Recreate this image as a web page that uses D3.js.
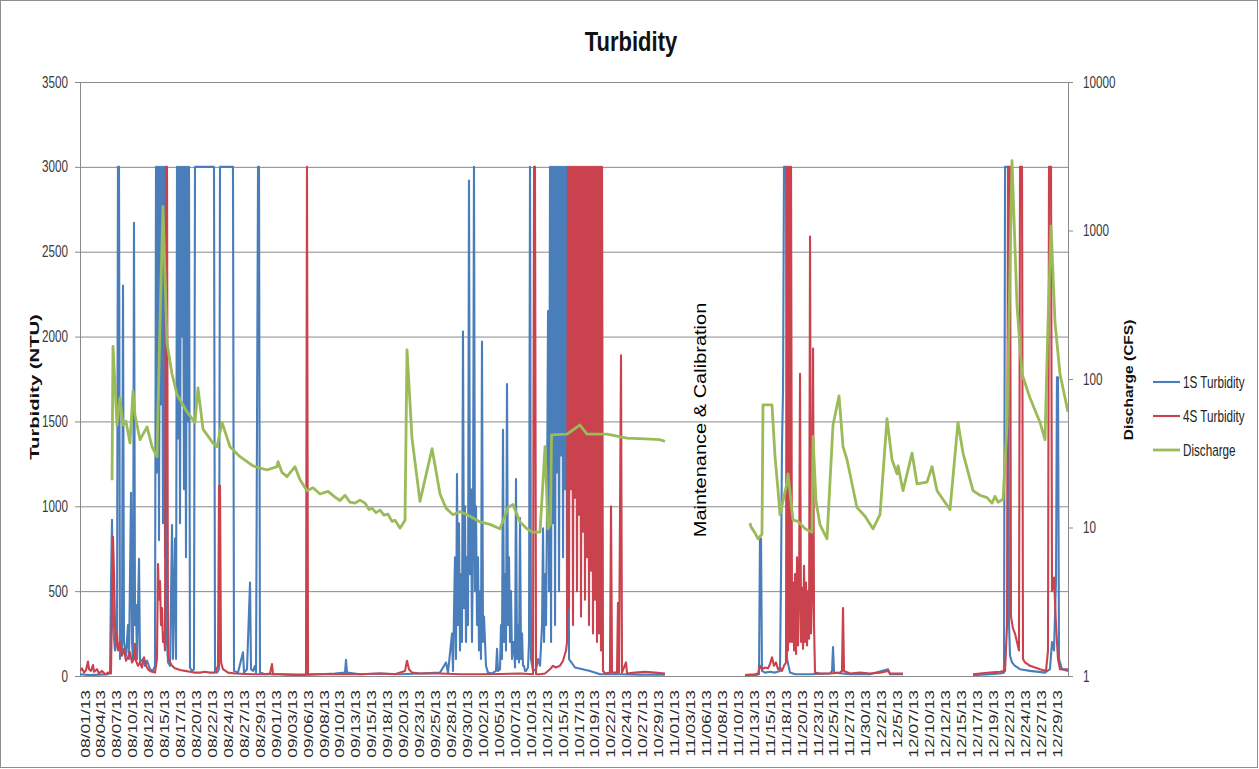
<!DOCTYPE html>
<html><head><meta charset="utf-8">
<script src="https://cdn.jsdelivr.net/npm/d3@7"></script>
<style>
body{margin:0;background:#fff}
svg{display:block}
text{font-family:"Liberation Sans",Arial,sans-serif}
</style>
</head><body>
<svg id="c" width="1259" height="769"></svg>
<script>
// ---------------- data ----------------
const chartTitle = "Turbidity";
const leftTitle = "Turbidity (NTU)";
const rightTitle = "Discharge (CFS)";
const gapNote = "Maintenance & Calibration";
const seriesNames = ["1S Turbidity", "4S Turbidity", "Discharge"];
const seriesColors = ["#4a7ebb", "#c9424d", "#9bbb59"];

const dateLabels = ["08/01/13","08/04/13","08/07/13","08/10/13","08/12/13","08/15/13","08/17/13","08/20/13","08/22/13","08/24/13","08/27/13","08/29/13",
"09/01/13","09/03/13","09/06/13","09/08/13","09/10/13","09/13/13","09/15/13","09/18/13","09/20/13","09/23/13","09/25/13","09/28/13","09/30/13",
"10/02/13","10/05/13","10/07/13","10/10/13","10/12/13","10/15/13","10/17/13","10/19/13","10/22/13","10/24/13","10/27/13","10/29/13",
"11/01/13","11/03/13","11/06/13","11/08/13","11/10/13","11/13/13","11/15/13","11/18/13","11/20/13","11/23/13","11/25/13","11/27/13","11/30/13",
"12/2/13","12/5/13","12/07/13","12/10/13","12/12/13","12/15/13","12/17/13","12/19/13","12/22/13","12/24/13","12/27/13","12/29/13"];
const leftTicks = [0,500,1000,1500,2000,2500,3000,3500];
const rightTicks = [1,10,100,1000,10000];
const dayDomain = [0,153];          // days since 08/01/13
const SAMPLE_STEP = 0.1549;         // days between logged samples inside bursts

// 1S turbidity (NTU): [day, value]
const s1AugOct = [[0,10],[1.55,5],[3.10,8],[4.34,10],[4.65,20],[4.80,540],[4.96,920],[5.11,300],[5.42,150],[5.73,200],[5.88,3000],[6.04,3000],[6.19,100],[6.35,300],[6.50,150],[6.66,2300],[6.81,200],[7.12,120],[7.43,300],[7.59,100],[7.90,1080],[8.05,200],[8.21,100],[8.36,2670],[8.52,300],[8.67,420],[8.83,100],[9.14,690],[9.29,80],[9.76,100],[10.07,60],[10.38,90],[10.84,40],[11.30,30],[11.61,60],
[13.47,200],[13.63,80],[13.94,60],[14.25,890],[14.40,100],[14.71,810],[14.87,100],
[17.03,50],[17.34,30],[17.65,40],[17.81,3000],[20.75,3000],[20.91,30],[21.22,20],[21.53,40],[21.68,3000],[23.69,3000],[23.85,30],[24.47,20],[25.24,140],[25.40,20],[25.86,40],[26.33,550],[26.48,40],[26.79,30],[27.10,60],[27.26,20],[27.57,3000],[27.72,3000],[27.87,20],[28.65,10],[30.97,10],[34.07,5],[37.17,10],[39.49,15],[41.04,20],[41.19,95],[41.35,20],[43.36,10],[46.46,15],[49.56,10],[52.65,15],[55.75,20],[56.68,80],[56.99,20],[57.61,250],[57.76,30],
[62.87,60],[63.18,20],[63.80,15],[64.42,30],[64.58,160],[64.73,30],
[70.15,30],[70.62,40],[70.93,100],[71.24,60],
[75.73,100],[76.66,50],[78.98,30],[80.53,10],[83.62,10],[86.72,8],[90.59,8]];
const s1Bursts = [
 {start:11.77, values:[3000,1200,3000,800,3000,1600,3000,900,3000,700,3000]},
 {start:15.02, values:[3000,1400,3000,900,3000,2000,3000,1100,3000,700,3000,1500,3000]},
 {start:58.07, values:[700,100,1190,300,900,150,600,200,2030,400,1000,200,700,300,2920,600,1100,200,800,3000,500,1000,300,700,150,500,100,1970,200,350]},
 {start:65.04, values:[40,300,100,1450,200,600,150,1720,300,700,200,500,100,200,200,50,1160,100,300,80,930,100,250,60,60,30,30,40,50,200,3000,100]},
 {start:71.55, values:[300,870,200,600,300,1000,2150,500,3000,200,3000,900,3000,300,3000,1200,3000,500,3000,1300,3000,700,3000,1100,3000,400,3000]}
];
const s1Nov = [[102.98,5],[104.53,5],[105.15,10],[105.30,810],[105.46,810],[105.61,30],[106.08,20],[106.85,25],[107.63,20],[108.40,30],[108.56,600],[108.71,1360],[108.87,1680],[109.02,3000],[109.33,3000],[109.49,100],[109.95,20],[110.73,10],[113.05,10],[116.15,15],[116.46,30],[116.61,170],[116.77,20],[119.24,10],[122.34,10],[125.13,40],[125.44,10],[127.45,10]];
const s1Dec = [[138.29,5],[140.92,10],[142.47,15],[143.09,20],[143.25,3000],[143.71,3000],[143.87,300],[144.02,120],[144.33,80],[144.79,60],[145.57,40],[147.12,30],[149.44,20],[150.21,40],[150.52,200],[150.83,150],[151.14,560],[151.29,1760],[151.45,1760],[151.61,100],[152.07,40],[153,30]];

// 4S turbidity (NTU)
const s4AugOct = [[0,30],[0.31,45],[0.62,20],[0.93,35],[1.24,85],[1.39,40],[1.70,30],[2.01,65],[2.17,25],[2.63,40],[2.94,15],[3.41,30],[3.87,10],[4.34,20],[4.80,15],[4.96,450],[5.11,820],[5.27,600],[5.42,300],[5.57,180],[5.73,250],[5.88,150],[6.19,200],[6.50,120],[6.81,160],[7.12,90],[7.43,110],[7.74,140],[8.05,80],[8.36,100],[8.52,190],[8.67,90],[8.98,60],[9.29,80],[9.60,50],[9.91,110],[10.22,60],[10.53,40],[10.84,30],[11.15,25],[11.61,20],[11.92,100],[12.08,660],[12.23,450],[12.39,560],[12.54,300],[12.70,400],[12.85,200],[13.01,250],[13.16,150],[13.32,3000],[13.47,3000],[13.63,120],[13.94,80],[14.25,60],[14.71,45],[15.49,35],[16.26,30],[17.03,25],[17.81,20],[18.58,20],[19.36,25],[20.13,20],[20.91,20],[21.37,60],[21.53,1120],[21.68,1120],[21.84,80],[22.14,40],[22.92,20],[24.00,15],[25.55,12],[27.10,10],[28.65,10],[29.42,15],[29.73,70],[29.89,10],[30.97,10],[32.52,8],[35.00,10],[35.15,3000],[35.31,10],[37.17,10],[40.26,12],[43.36,10],[46.46,15],[48.78,10],[50.33,30],[50.64,90],[50.95,40],[51.41,20],[52.65,15],[55.75,15],[58.85,10],[61.94,10],[65.04,12],[68.14,15],[70.15,10],[70.31,3000],[70.46,3000],[70.62,10],[71.24,10],[72.01,15],[72.78,40],[73.25,60],[73.71,50],[74.33,60],[74.80,90],[75.26,150],[75.42,200],
[80.99,30],[81.30,15],[82.07,20],[82.23,1000],[82.39,20],[83.16,20],[83.31,430],[83.47,20],[83.78,1890],[83.93,20],[84.55,80],[84.71,15],[85.95,20],[87.50,25],[89.04,20],[90.59,15]];
const s4Bursts = [
 {start:75.57, values:[3000,400,3000,1100,3000,300,3000,1050,3000,500,3000,950,3000,350,3000,850,3000,450,3000,700,3000,300,3000,620,3000,250,3000,450,3000,200,3000,250,3000,150,3000]},
 {start:109.49, values:[3000,150,3000,200,3000,200,550,150,600,130,700,180,450,1780,200,520,160,650,200,550,180,500,220,2590,250,480,1930,300]}
];
const s4Nov = [[102.98,5],[103.76,8],[104.53,10],[105.00,15],[105.30,60],[105.61,40],[106.08,50],[106.54,45],[106.85,70],[107.16,110],[107.47,60],[107.78,80],[108.09,40],[108.40,50],[108.71,30],[109.02,60],[109.33,80],
[113.82,20],[114.60,15],[116.15,15],[117.69,20],[118.00,30],[118.16,400],[118.31,30],[119.24,15],[120.79,20],[122.34,15],[123.89,20],[125.13,30],[125.44,15],[127.45,15]];
const s4Dec = [[138.29,10],[139.37,15],[140.92,20],[142.47,25],[143.25,30],[143.56,300],[143.71,3000],[144.02,3000],[144.17,350],[144.48,280],[144.79,250],[145.10,200],[145.41,150],[145.57,3000],[145.88,3000],[146.03,100],[146.34,80],[147.12,60],[148.67,40],[149.59,30],[149.90,150],[150.06,3000],[150.37,3000],[150.52,500],[150.83,580],[151.14,300],[151.45,100],[151.76,40],[153,40]];

// Discharge (CFS)
const qAugOct = [[4.96,20.8],[5.11,166],[5.73,49],[6.19,74.5],[6.66,49],[7.12,52],[7.74,37],[8.21,83],[8.52,57],[9.29,39],[10.38,47.6],[11.15,35],[11.92,30],[12.39,240],[12.85,1450],[13.47,175],[14.25,108],[15.02,78.6],[16.57,60],[17.81,51],[18.27,87],[19.05,46],[20.60,37],[21.22,35],[21.99,51],[23.23,35],[24.78,30],[26.79,26],[28.96,24.4],[30.51,25.7],[30.66,27.8],[31.28,23.5],[32.06,22],[33.29,25.7],[34.07,21],[35.15,17.7],[36.08,18.5],[37.17,16.8],[38.41,17.5],[39.49,16],[40.26,15.2],[41.04,16.5],[41.81,14.8],[42.59,14.6],[43.36,15.3],[44.13,14.6],[44.75,13.2],[45.21,13.5],[45.83,12.6],[46.46,13.1],[47.07,12.1],[47.69,12.3],[48.31,11.0],[48.78,11.2],[49.56,9.9],[50.33,11.2],[50.64,157],[51.41,40],[52.65,15],[54.52,34],[55.75,16.8],[56.68,13.5],[57.76,12.2],[58.85,12.8],[59.94,12.2],[61.01,11.5],[61.94,10.9],[63.49,10.5],[65.04,9.8],[66.28,13.6],[67.05,14.3],[68.14,10.9],[69.22,9.8],[70.15,9.3],[71.24,9.3],[72.01,35],[72.47,9.8],[72.85,10.5],[73.02,42],[75.42,42.6],[77.43,49],[78.51,42.6],[81.61,42.6],[84.71,40],[87.50,39.5],[89.82,39],[90.59,38]];
const qNovDec = [[103.76,10.7],[103.91,10.1],[104.53,9.2],[105.00,8.4],[105.61,9.0],[105.77,67],[107.16,67],[107.63,30],[108.09,18],[108.40,12.2],[109.49,20],[109.64,23],[110.42,11.2],[111.19,11],[112.28,9.8],[113.36,9.3],[113.51,41],[113.98,15],[114.60,10.4],[115.68,8.4],[116.61,49],[117.54,77],[118.16,35],[118.78,28.6],[120.33,13.6],[121.57,11.9],[122.80,9.8],[123.89,12.2],[124.97,54],[125.75,28.6],[126.52,23],[126.68,26],[127.45,17.7],[128.85,31.7],[129.62,19.7],[131.17,20.2],[131.94,25.7],[132.72,17.7],[134.73,13.2],[135.96,51],[136.74,31.7],[138.29,17.7],[139.37,16.5],[140.46,15.9],[141.23,14.6],[141.70,16.2],[142.16,14.8],[142.94,15.5],[143.56,49],[144.33,2950],[145.10,314],[145.88,108],[147.12,74.5],[148.67,51],[149.44,39],[149.90,240],[150.37,1070],[150.99,240],[151.76,108],[153,60]];

// ---------------- helpers ----------------
function withBursts(points, bursts){
  const out = points.slice();
  bursts.forEach(b => b.values.forEach((v,i) => out.push([b.start + i*SAMPLE_STEP, v])));
  return out.sort((a,b) => a[0]-b[0]);
}
const inRange = (pts, a, b) => pts.filter(p => p[0] >= a && p[0] <= b);

// ---------------- chart ----------------
const svg = d3.select("#c");
const L = 80, R = 1068, T = 82, B = 676;
const SY = 1.35;   // vertical glyph stretch of the reference

const x = d3.scaleLinear().domain(dayDomain).range([L, R]);
const xCat = d3.scaleBand().domain(dateLabels).range([L - 3, R - 3]);
const yL = d3.scaleLinear().domain([0, 3500]).range([B, T]);
const yR = d3.scaleLog().domain([1, 10000]).range([B, T]);

svg.append("rect").attr("x",0.5).attr("y",0.5).attr("width",1257).attr("height",767)
  .attr("fill","#fff").attr("stroke","#8f8f8f");

// gridlines
svg.append("g").attr("transform", `translate(${L},0)`)
  .call(d3.axisLeft(yL).tickValues(leftTicks.filter(v => v > 0)).tickSize(-(R-L)).tickFormat(""))
  .call(g => g.select(".domain").remove())
  .selectAll("line").attr("stroke", "#8a8a8a").attr("stroke-width", 1);

// left axis
const gL = svg.append("g").attr("transform", `translate(${L},0)`)
  .call(d3.axisLeft(yL).tickValues(leftTicks).tickFormat(d3.format("d")).tickSize(5).tickPadding(7));
gL.select(".domain").attr("stroke", "#8a8a8a");
gL.selectAll("line").attr("stroke", "#8a8a8a");
gL.selectAll("text").attr("font-size", 11.7).attr("fill", "#3a3a3a")
  .attr("font-family", "Liberation Sans, Arial, sans-serif")
  .attr("transform", `scale(1,${SY})`);

// right axis
const gR = svg.append("g").attr("transform", `translate(${R},0)`)
  .call(d3.axisRight(yR).tickValues(rightTicks).tickFormat(d3.format("d")).tickSize(5).tickPadding(10));
gR.select(".domain").attr("stroke", "#8a8a8a");
gR.selectAll("line").attr("stroke", "#8a8a8a");
gR.selectAll("text").attr("font-size", 11.7).attr("fill", "#3a3a3a")
  .attr("font-family", "Liberation Sans, Arial, sans-serif")
  .attr("transform", `scale(1,${SY})`);

// bottom axis
const gB = svg.append("g").attr("transform", `translate(0,${B})`)
  .call(d3.axisBottom(xCat).tickSize(0));
gB.select(".domain").attr("stroke", "#8a8a8a").attr("d", `M${L},0.5H${R}`);
gB.selectAll("text").attr("font-size", 13).attr("fill", "#2a2a2a")
  .attr("font-family", "Liberation Sans, Arial, sans-serif")
  .attr("text-anchor", "end")
  .attr("x", -14 / 1.34).attr("y", 0).attr("dy", "0.35em")
  .attr("transform", "scale(1,1.34) rotate(-90)");

// clip
svg.append("clipPath").attr("id","plot").append("rect")
  .attr("x", L).attr("y", T - 10).attr("width", R - L).attr("height", B - T + 10);
const plot = svg.append("g").attr("clip-path", "url(#plot)");

const lineL = d3.line().x(d => x(d[0])).y(d => yL(d[1]));
const lineR = d3.line().x(d => x(d[0])).y(d => yR(d[1]));

const s1All = [withBursts(s1AugOct, s1Bursts), withBursts(s1Nov, s1Bursts), s1Dec];
const s1Segs = [inRange(s1All[0], 0, 91), inRange(s1All[1], 100, 130), s1All[2]];
const s4All = [withBursts(s4AugOct, s4Bursts), withBursts(s4Nov, s4Bursts), s4Dec];
const s4Segs = [inRange(s4All[0], 0, 91), inRange(s4All[1], 100, 130), s4All[2]];

plot.selectAll("path.s1").data(s1Segs).join("path").attr("class","s1")
  .attr("d", lineL).attr("fill","none").attr("stroke", seriesColors[0])
  .attr("stroke-width", 2.1).attr("stroke-linejoin","round");
plot.selectAll("path.s4").data(s4Segs).join("path").attr("class","s4")
  .attr("d", lineL).attr("fill","none").attr("stroke", seriesColors[1])
  .attr("stroke-width", 2.1).attr("stroke-linejoin","round");
plot.selectAll("path.q").data([qAugOct, qNovDec]).join("path").attr("class","q")
  .attr("d", lineR).attr("fill","none").attr("stroke", seriesColors[2])
  .attr("stroke-width", 2.8).attr("stroke-linejoin","round");

// texts
function label(str, px, py, o){
  const rot = o.rotate ? " rotate(-90)" : "";
  svg.append("text").text(str)
    .attr("transform", `translate(${px},${py}) scale(${o.sx||1},${o.sy||SY})${rot}`)
    .attr("text-anchor", o.anchor || "middle")
    .attr("dy", o.dy || "0.35em")
    .attr("font-size", o.size).attr("font-weight", o.weight || "normal")
    .attr("fill", o.fill || "#222");
}
label(chartTitle, 631, 51, {size: 22, weight: "bold", sy: 1.27, dy: "0", fill: "#111"});
label(leftTitle, 34, 387, {size: 13.5, weight: "bold", sy: 1.5, rotate: true, fill: "#111"});
label(rightTitle, 1128, 380, {size: 13.5, weight: "bold", sy: 1.15, rotate: true, fill: "#111"});
label(gapNote, 700, 420, {size: 16, sy: 1.25, rotate: true, fill: "#000"});

// legend
const legY = [382, 416, 450];
seriesNames.forEach((n, i) => {
  svg.append("line").attr("x1", 1153).attr("x2", 1180).attr("y1", legY[i]).attr("y2", legY[i])
    .attr("stroke", seriesColors[i]).attr("stroke-width", i === 2 ? 2.8 : 2.1);
  label(n, 1183, legY[i], {size: 11.7, anchor: "start", fill: "#222"});
});
</script>
</body></html>
